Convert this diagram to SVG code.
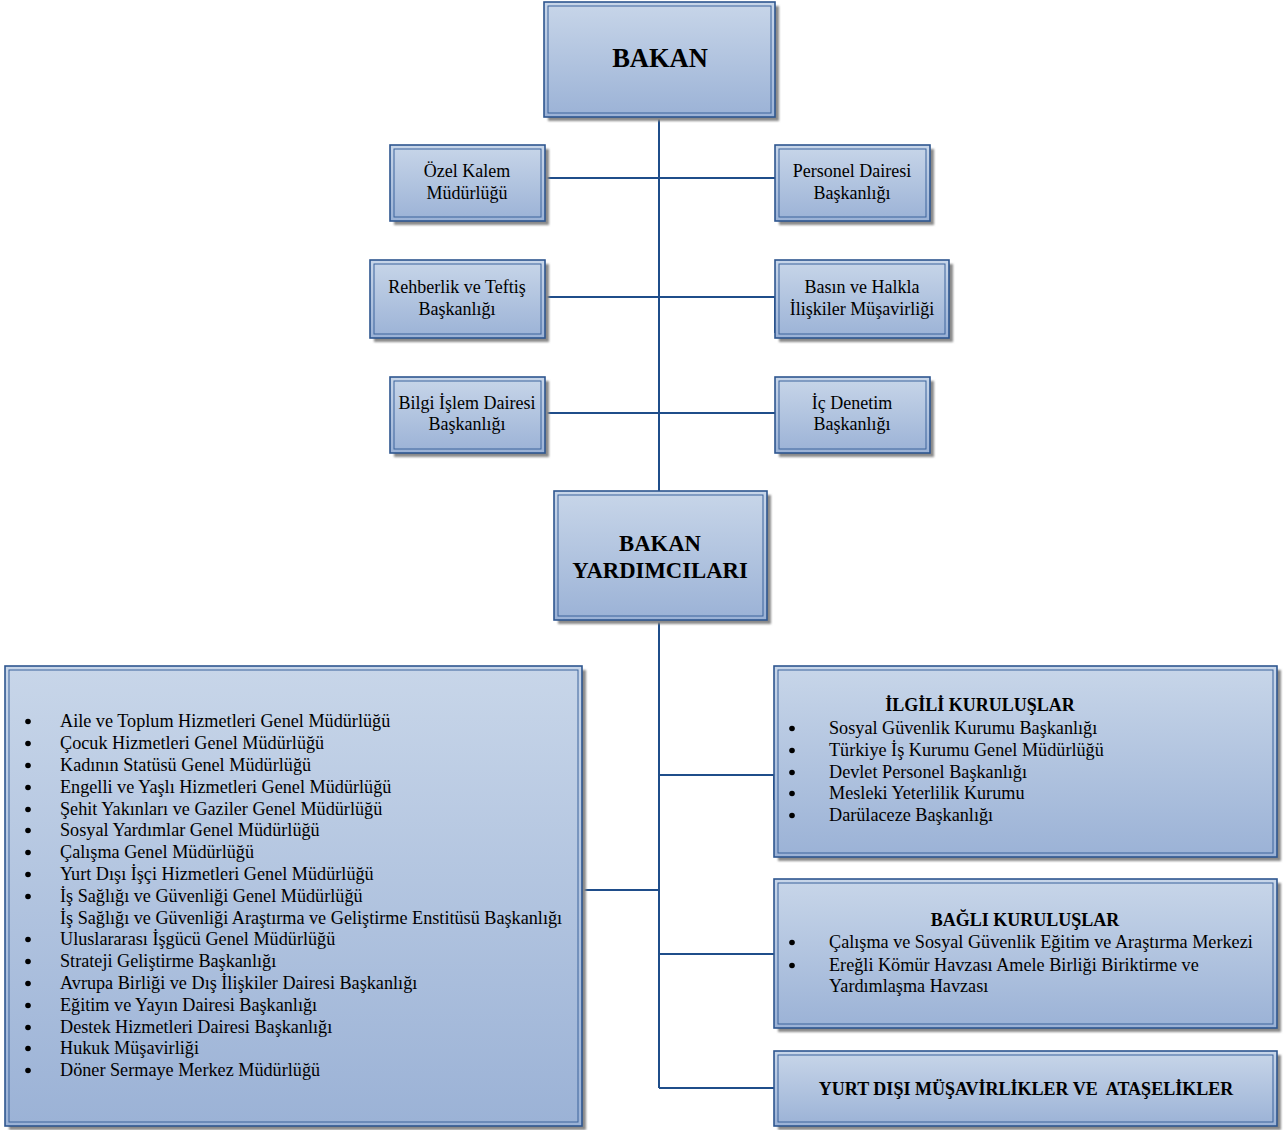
<svg xmlns="http://www.w3.org/2000/svg" width="1284" height="1130" viewBox="0 0 1284 1130">
<defs>
<linearGradient id="g" x1="0" y1="0" x2="0" y2="1">
<stop offset="0" stop-color="#c8d6e9"/>
<stop offset="1" stop-color="#9bb2d6"/>
</linearGradient>
<filter id="sh" x="-5%" y="-5%" width="110%" height="110%"><feGaussianBlur stdDeviation="1.2"/></filter>
</defs>
<style>
.sh{fill:#8a8a8a;filter:url(#sh)}
.o{fill:url(#g);stroke:#2e568f;stroke-width:1.6}
.i{fill:none;stroke:#3b639b;stroke-width:1}
text{font-family:"Liberation Serif","Times New Roman",serif;fill:#000}
.t{font-size:18px;text-anchor:middle}
.b{font-weight:bold}
.l{font-size:18.2px}
.d circle{fill:#000}
.c{stroke:#1f4d8a;stroke-width:2;fill:none}
</style>
<g id="connectors">
<path class="c" d="M659 117V491M659 620V1088"/>
<path class="c" d="M545 178H775M545 297H775M545 413H775"/>
<path class="c" d="M582 890H659M659 775H774M659 954H774M659 1088H774"/>
<path class="c" d="M545 178V215M545 297V333M775 297V333M582 890V915M774 775V800"/>
</g>
<g id="bakan">
<rect class="sh" x="548" y="6" width="231" height="115"/>
<rect class="o" x="544" y="2" width="231" height="115"/>
<rect class="i" x="548" y="6" width="223" height="107"/>
<text class="b" x="660" y="67" style="font-size:26.5px;text-anchor:middle">BAKAN</text>
</g>
<g id="ozel-kalem">
<rect class="sh" x="394" y="149" width="155" height="76"/>
<rect class="o" x="390" y="145" width="155" height="76"/>
<rect class="i" x="394" y="149" width="147" height="68"/>
<text class="t" x="467" y="177">Özel Kalem</text>
<text class="t" x="467" y="199">Müdürlüğü</text>
</g>
<g id="personel">
<rect class="sh" x="779" y="149" width="155" height="76"/>
<rect class="o" x="775" y="145" width="155" height="76"/>
<rect class="i" x="779" y="149" width="147" height="68"/>
<text class="t" x="852" y="177">Personel Dairesi</text>
<text class="t" x="852" y="199">Başkanlığı</text>
</g>
<g id="rehberlik">
<rect class="sh" x="374" y="264" width="175" height="78"/>
<rect class="o" x="370" y="260" width="175" height="78"/>
<rect class="i" x="374" y="264" width="167" height="70"/>
<text class="t" x="457" y="293">Rehberlik ve Teftiş</text>
<text class="t" x="457" y="315">Başkanlığı</text>
</g>
<g id="basin">
<rect class="sh" x="779" y="264" width="174" height="78"/>
<rect class="o" x="775" y="260" width="174" height="78"/>
<rect class="i" x="779" y="264" width="166" height="70"/>
<text class="t" x="862" y="293">Basın ve Halkla</text>
<text class="t" x="862" y="315">İlişkiler Müşavirliği</text>
</g>
<g id="bilgi-islem">
<rect class="sh" x="394" y="381" width="155" height="76"/>
<rect class="o" x="390" y="377" width="155" height="76"/>
<rect class="i" x="394" y="381" width="147" height="68"/>
<text class="t" x="467" y="409">Bilgi İşlem Dairesi</text>
<text class="t" x="467" y="430">Başkanlığı</text>
</g>
<g id="ic-denetim">
<rect class="sh" x="779" y="381" width="155" height="76"/>
<rect class="o" x="775" y="377" width="155" height="76"/>
<rect class="i" x="779" y="381" width="147" height="68"/>
<text class="t" x="852" y="409">İç Denetim</text>
<text class="t" x="852" y="430">Başkanlığı</text>
</g>
<g id="bakan-yardimcilari">
<rect class="sh" x="558" y="495" width="213" height="129"/>
<rect class="o" x="554" y="491" width="213" height="129"/>
<rect class="i" x="558" y="495" width="205" height="121"/>
<text class="b" x="660" y="551" style="font-size:22.7px;text-anchor:middle">BAKAN</text>
<text class="b" x="660" y="578" style="font-size:22.7px;text-anchor:middle">YARDIMCILARI</text>
</g>
<g id="birimler">
<rect class="sh" x="9" y="670" width="577" height="460"/>
<rect class="o" x="5" y="666" width="577" height="460"/>
<rect class="i" x="9" y="670" width="569" height="452"/>
<g class="d">
<circle cx="28" cy="721.5" r="2.8"/>
<circle cx="28" cy="743.5" r="2.8"/>
<circle cx="28" cy="765.5" r="2.8"/>
<circle cx="28" cy="787.5" r="2.8"/>
<circle cx="28" cy="809.5" r="2.8"/>
<circle cx="28" cy="830.5" r="2.8"/>
<circle cx="28" cy="852.5" r="2.8"/>
<circle cx="28" cy="874.5" r="2.8"/>
<circle cx="28" cy="896.5" r="2.8"/>
<circle cx="28" cy="939.5" r="2.8"/>
<circle cx="28" cy="961.5" r="2.8"/>
<circle cx="28" cy="983.5" r="2.8"/>
<circle cx="28" cy="1005.5" r="2.8"/>
<circle cx="28" cy="1027.5" r="2.8"/>
<circle cx="28" cy="1048.5" r="2.8"/>
<circle cx="28" cy="1070.5" r="2.8"/>
</g>
<g class="l">
<text x="60" y="727">Aile ve Toplum Hizmetleri Genel Müdürlüğü</text>
<text x="60" y="749">Çocuk Hizmetleri Genel Müdürlüğü</text>
<text x="60" y="771">Kadının Statüsü Genel Müdürlüğü</text>
<text x="60" y="793">Engelli ve Yaşlı Hizmetleri Genel Müdürlüğü</text>
<text x="60" y="815">Şehit Yakınları ve Gaziler Genel Müdürlüğü</text>
<text x="60" y="836">Sosyal Yardımlar Genel Müdürlüğü</text>
<text x="60" y="858">Çalışma Genel Müdürlüğü</text>
<text x="60" y="880">Yurt Dışı İşçi Hizmetleri Genel Müdürlüğü</text>
<text x="60" y="902">İş Sağlığı ve Güvenliği Genel Müdürlüğü</text>
<text x="60" y="924">İş Sağlığı ve Güvenliği Araştırma ve Geliştirme Enstitüsü Başkanlığı</text>
<text x="60" y="945">Uluslararası İşgücü Genel Müdürlüğü</text>
<text x="60" y="967">Strateji Geliştirme Başkanlığı</text>
<text x="60" y="989">Avrupa Birliği ve Dış İlişkiler Dairesi Başkanlığı</text>
<text x="60" y="1011">Eğitim ve Yayın Dairesi Başkanlığı</text>
<text x="60" y="1033">Destek Hizmetleri Dairesi Başkanlığı</text>
<text x="60" y="1054">Hukuk Müşavirliği</text>
<text x="60" y="1076">Döner Sermaye Merkez Müdürlüğü</text>
</g>
</g>
<g id="ilgili-kuruluslar">
<rect class="sh" x="778" y="670" width="503" height="191"/>
<rect class="o" x="774" y="666" width="503" height="191"/>
<rect class="i" x="778" y="670" width="495" height="183"/>
<text class="b" x="980" y="711" style="font-size:18px;text-anchor:middle">İLGİLİ KURULUŞLAR</text>
<g class="d">
<circle cx="792" cy="728.5" r="2.8"/>
<circle cx="792" cy="750.5" r="2.8"/>
<circle cx="792" cy="772.5" r="2.8"/>
<circle cx="792" cy="793.5" r="2.8"/>
<circle cx="792" cy="815.5" r="2.8"/>
</g>
<g class="l">
<text x="829" y="734">Sosyal Güvenlik Kurumu Başkanlığı</text>
<text x="829" y="756">Türkiye İş Kurumu Genel Müdürlüğü</text>
<text x="829" y="778">Devlet Personel Başkanlığı</text>
<text x="829" y="799">Mesleki Yeterlilik Kurumu</text>
<text x="829" y="821">Darülaceze Başkanlığı</text>
</g>
</g>
<g id="bagli-kuruluslar">
<rect class="sh" x="778" y="883" width="503" height="149"/>
<rect class="o" x="774" y="879" width="503" height="149"/>
<rect class="i" x="778" y="883" width="495" height="141"/>
<text class="b" x="1025" y="926" style="font-size:18px;text-anchor:middle">BAĞLI KURULUŞLAR</text>
<g class="d">
<circle cx="792" cy="942.5" r="2.8"/>
<circle cx="792" cy="965.5" r="2.8"/>
</g>
<g class="l">
<text x="829" y="948">Çalışma ve Sosyal Güvenlik Eğitim ve Araştırma Merkezi</text>
<text x="829" y="971">Ereğli Kömür Havzası Amele Birliği Biriktirme ve</text>
<text x="829" y="992">Yardımlaşma Havzası</text>
</g>
</g>
<g id="yurt-disi">
<rect class="sh" x="778" y="1055" width="503" height="75"/>
<rect class="o" x="774" y="1051" width="503" height="75"/>
<rect class="i" x="778" y="1055" width="495" height="67"/>
<text class="b" x="1026" y="1095" style="font-size:18px;text-anchor:middle;white-space:pre">YURT DIŞI MÜŞAVİRLİKLER VE  ATAŞELİKLER</text>
</g>
</svg>
